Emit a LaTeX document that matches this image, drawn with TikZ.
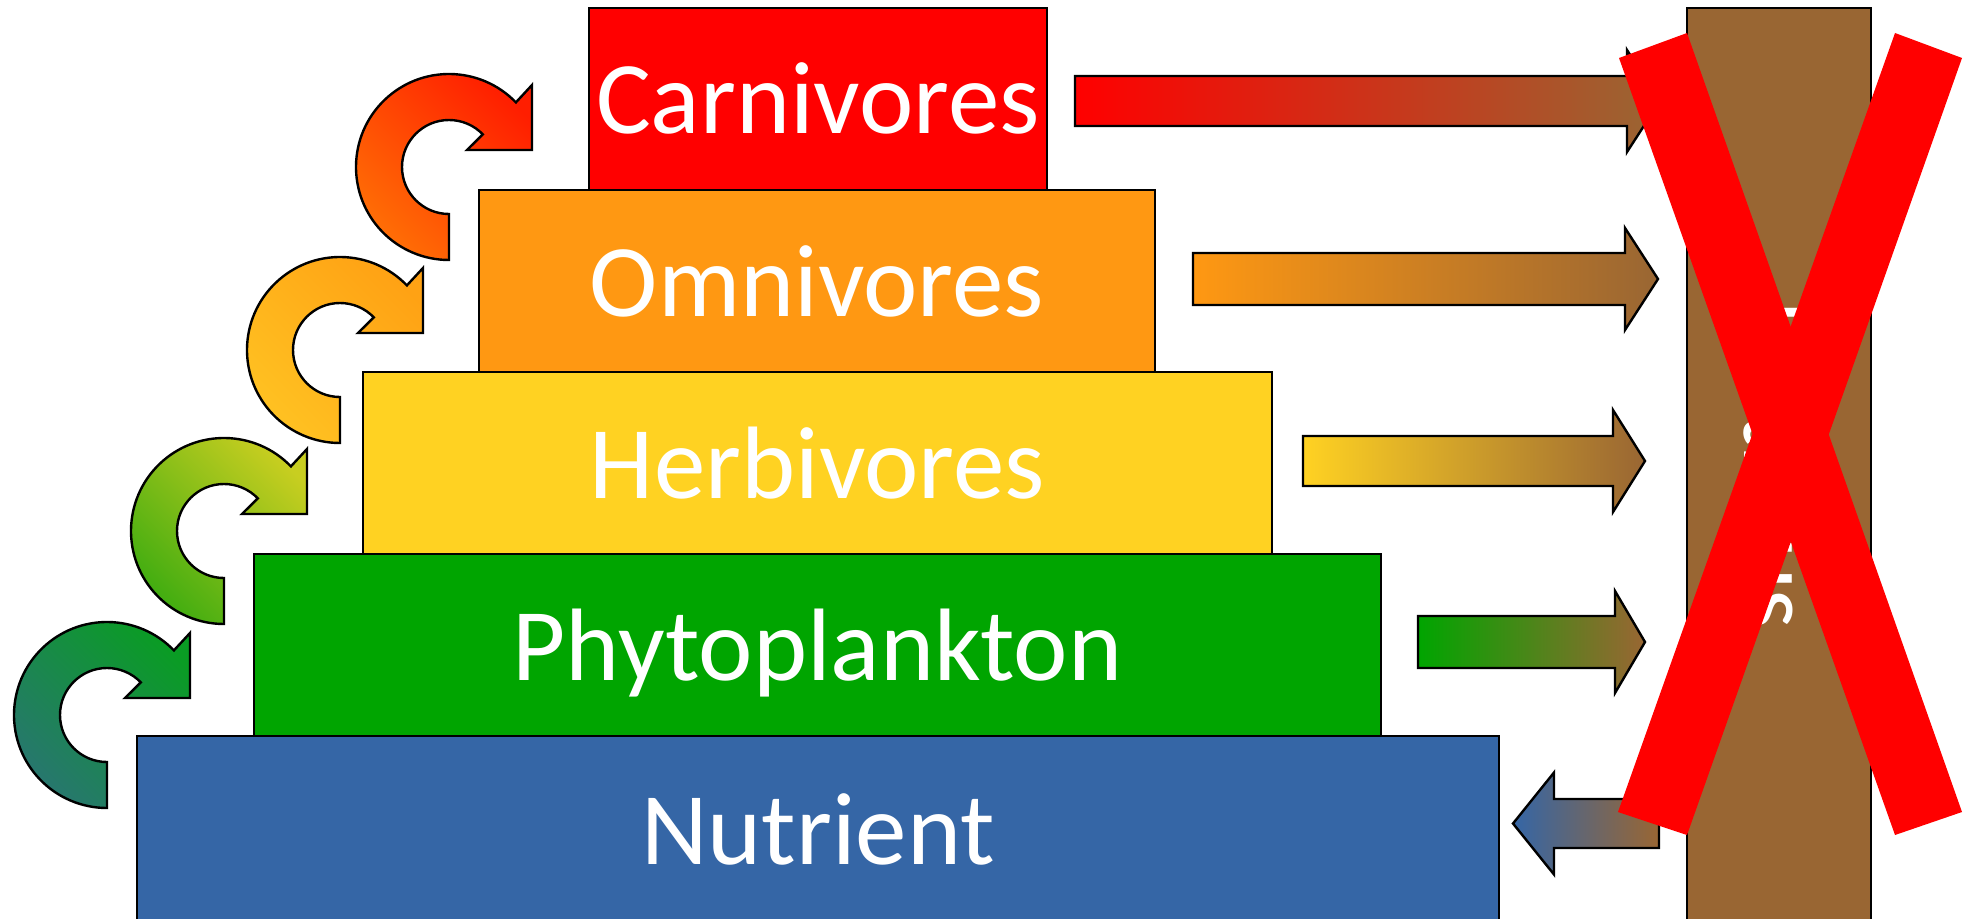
\documentclass[tikz,border=0pt]{standalone}
\usepackage{fontspec}
\setmainfont{Carlito}
\usetikzlibrary{calc}

\definecolor{carnred}{RGB}{255,0,0}
\definecolor{omniorange}{RGB}{255,152,18}
\definecolor{herbyellow}{RGB}{255,210,34}
\definecolor{phytogreen}{RGB}{0,165,0}
\definecolor{nutblue}{RGB}{53,102,166}
\definecolor{sinkbrown}{RGB}{153,102,51}
\definecolor{crossred}{RGB}{255,0,0}

\definecolor{loopAa}{RGB}{40,118,112}
\definecolor{loopAb}{RGB}{10,156,36}
\definecolor{loopBa}{RGB}{62,172,16}
\definecolor{loopBb}{RGB}{200,206,32}
\definecolor{loopCa}{RGB}{255,194,34}
\definecolor{loopCb}{RGB}{255,162,20}
\definecolor{loopDa}{RGB}{255,112,6}
\definecolor{loopDb}{RGB}{255,30,0}

% circular "recycling" arrow around centre (#1,#2), shaded #3 -> #4
\newcommand\looparrow[4]{%
  \path[outline, bottom color=#3, top color=#4, shading angle=-45]
    ($(#1,#2)+(44:93)$) arc[start angle=44, end angle=270, radius=93]
    -- ($(#1,#2)+(270:47)$) arc[start angle=270, end angle=44, radius=47]
    -- ($(#1,#2)+(18,17)$) -- ($(#1,#2)+(83,17)$) -- ($(#1,#2)+(83,82)$) -- cycle;}

% block arrow level with node #1 (offset #2): tail #3, head base #4, tip #5,
% half shaft #6, shaded #7 (left) -> #8 (right)
\newcommand\fatarrow[8]{%
  \begin{scope}[shift={(0,0 |- #1)}, shift={(0,#2)}]
    \path[outline, left color=#7, right color=#8]
      (#3,#6) -- (#4,#6) -- (#4,51) -- (#5,0) -- (#4,-51) -- (#4,-#6) -- (#3,-#6) -- cycle;
  \end{scope}}

\begin{document}
\begin{tikzpicture}[x=0.5pt, y=0.5pt,
  outline/.style={draw=black, line width=1.2pt, line join=miter},
  level/.style={outline, text=white, inner sep=0pt,
    font=\fontsize{51.5pt}{62pt}\selectfont, text height=35pt, text depth=0pt},
  sinkbar/.style={outline, fill=sinkbrown, inner sep=0pt}]
\useasboundingbox (0,0) rectangle (1965,918);

% trophic levels
\node[level, fill=nutblue,    minimum width=681pt,   minimum height=93pt] (nut)  at (818,89)    {Nutrient};
\node[level, fill=phytogreen, minimum width=563.5pt, minimum height=91pt] (phyto) at (817.5,273) {Phytoplankton};
\node[level, fill=herbyellow, minimum width=454.5pt, minimum height=91pt] (herb) at (817.5,455) {Herbivores};
\node[level, fill=omniorange, minimum width=338pt,   minimum height=91pt] (omni) at (817,637)   {Omnivores};
\node[level, fill=carnred,    minimum width=229pt,   minimum height=91pt] (carn) at (818,819)   {Carnivores};

% recycling arrows between the levels
\looparrow{107}{203}{loopAa}{loopAb}
\looparrow{224}{387}{loopBa}{loopBb}
\looparrow{340}{568}{loopCa}{loopCb}
\looparrow{449}{751}{loopDa}{loopDb}

% flows towards the detritus pool and back to the nutrients
\fatarrow{carn}{-2}{1075}{1627}{1660}{25}{carnred}{sinkbrown}
\fatarrow{omni}{2}{1193}{1625}{1658}{26}{omniorange}{sinkbrown}
\fatarrow{herb}{2}{1303}{1613}{1645}{25}{herbyellow}{sinkbrown}
\fatarrow{phyto}{3}{1418}{1615}{1645}{26}{phytogreen}{sinkbrown}
\fatarrow{nut}{5.5}{1659}{1554}{1513}{24.5}{nutblue}{sinkbrown}

% detritus pool
\node[sinkbar, minimum width=92pt, minimum height=457pt] (sink) at (1779,453) {};
\node[rotate=-90, text=white, inner sep=0pt, font=\fontsize{50pt}{60pt}\selectfont] (det) at (sink.center) {Detritus};

% crossing out
\fill[crossred] (1619,860) -- (1687,885) -- (1962,106) -- (1895,83) -- cycle;
\fill[crossred] (1895,885) -- (1962,860) -- (1687,83) -- (1618,106) -- cycle;
\end{tikzpicture}
\end{document}
